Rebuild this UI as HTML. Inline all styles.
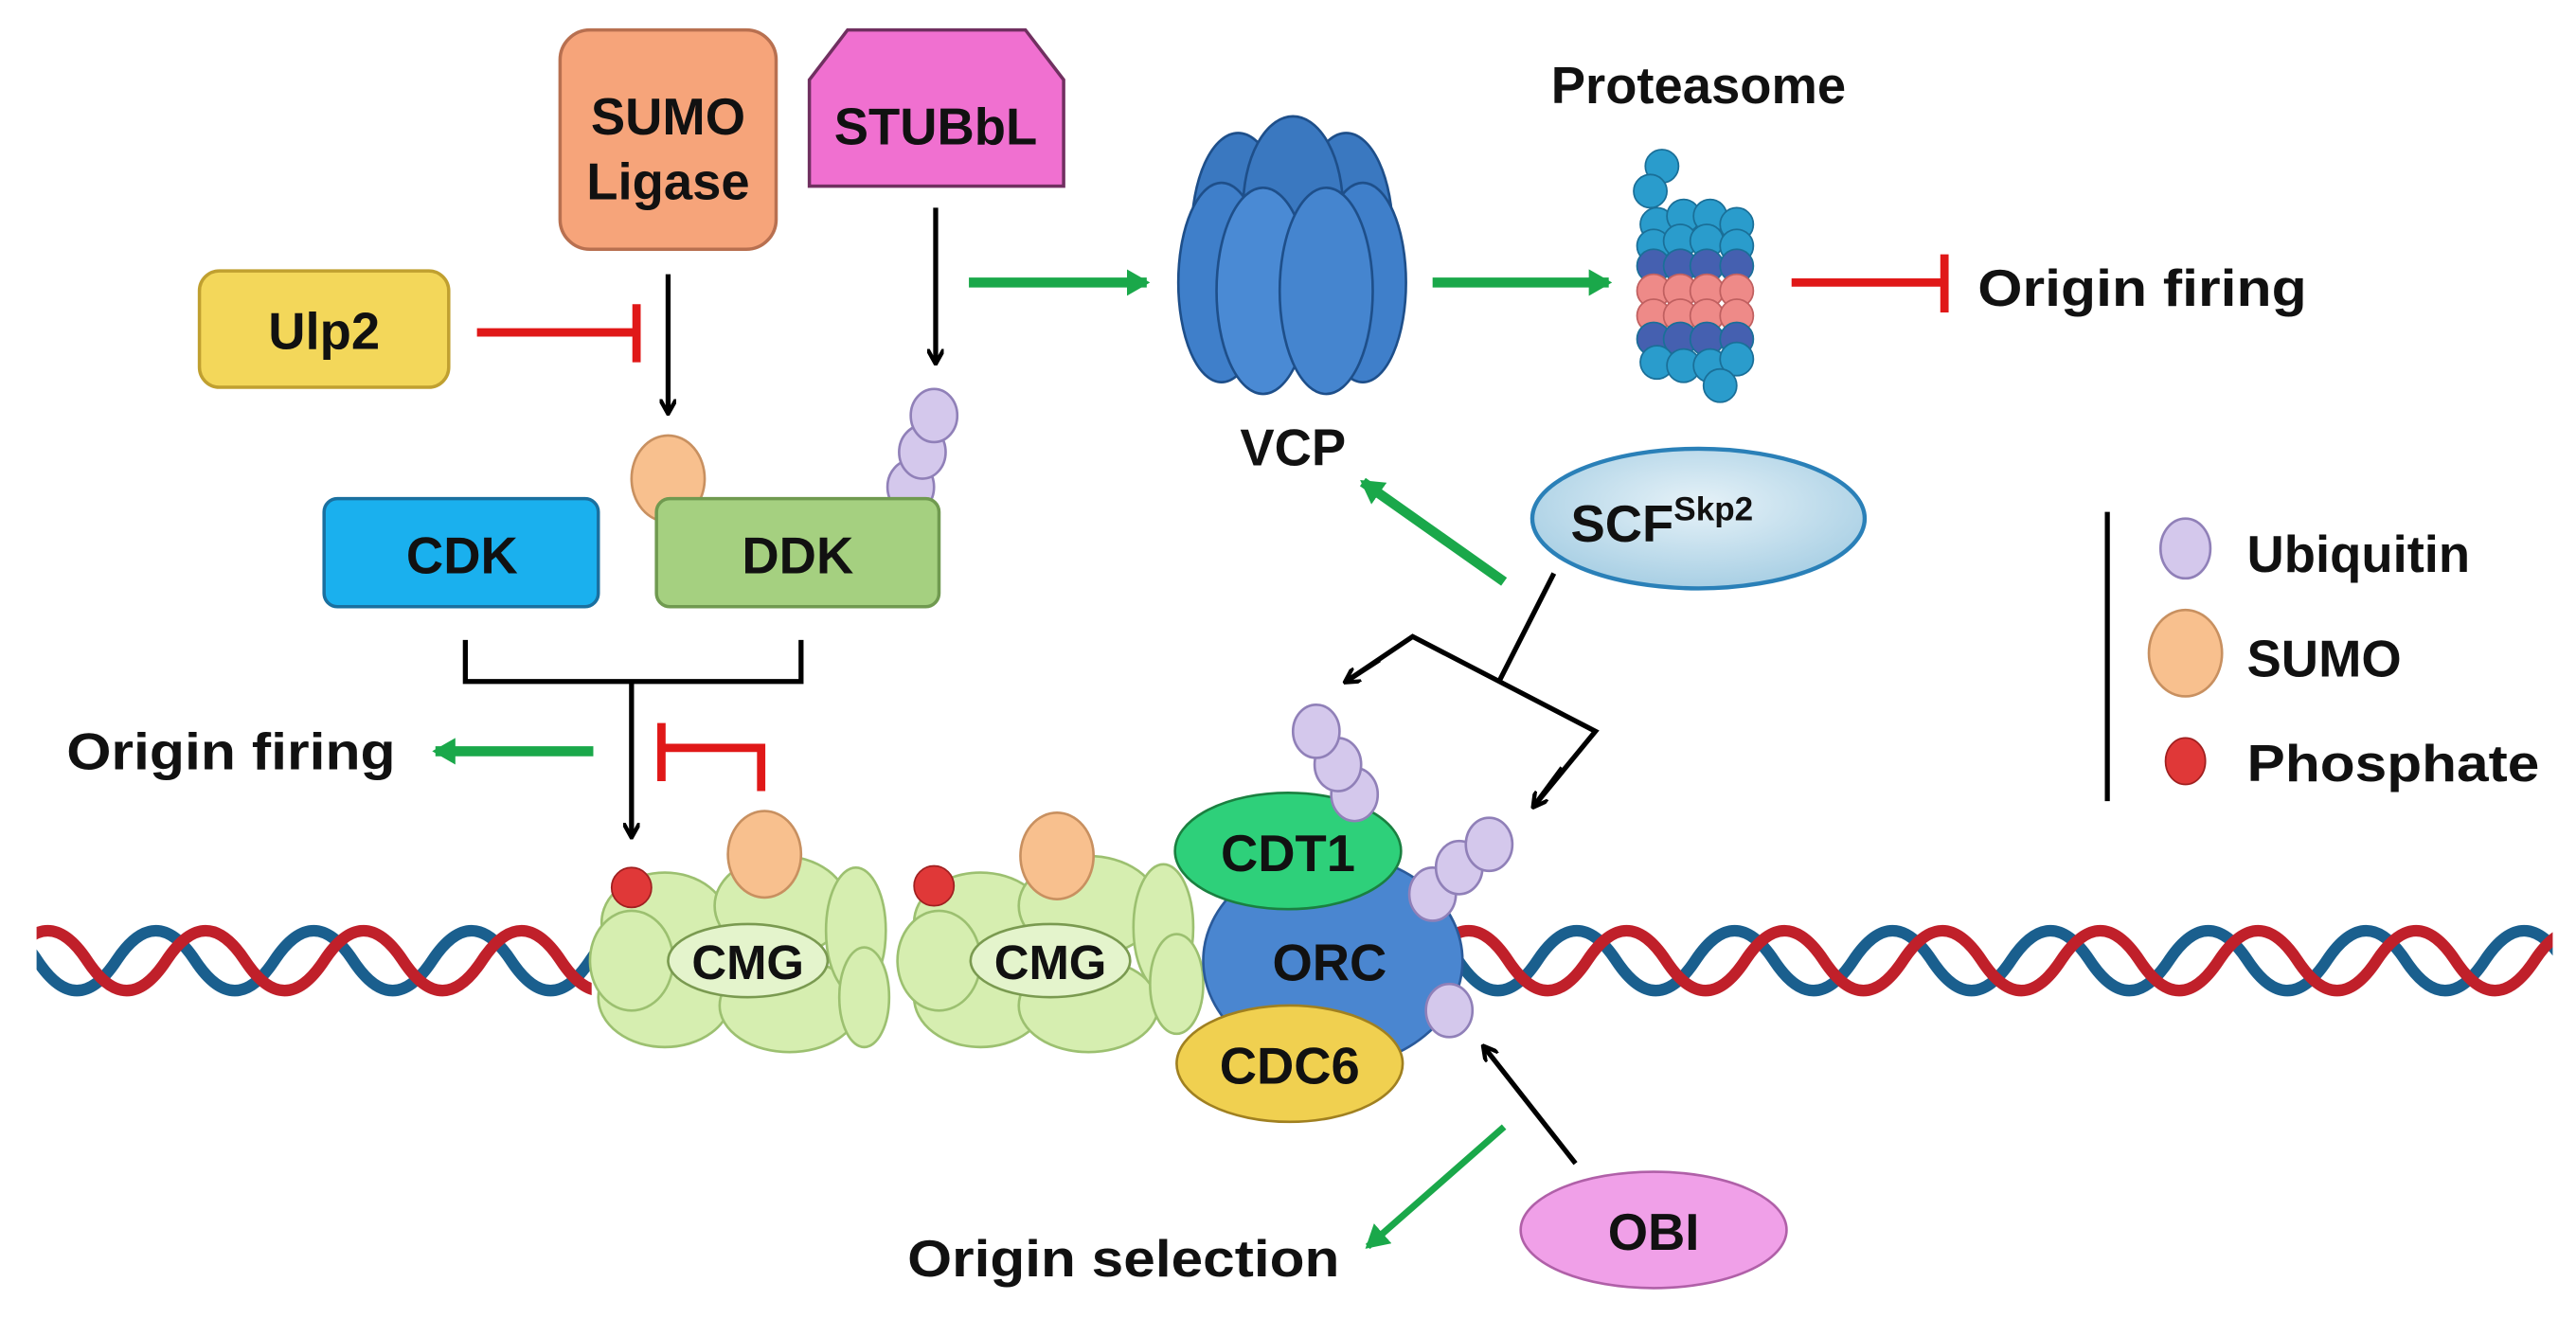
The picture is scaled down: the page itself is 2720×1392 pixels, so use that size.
<!DOCTYPE html>
<html><head><meta charset="utf-8"><style>
html,body{margin:0;padding:0;background:#fff;}
svg{display:block;}
text{font-family:"Liberation Sans",Arial,sans-serif;font-weight:bold;fill:#111;}
</style></head><body>
<svg width="2720" height="1392" viewBox="0 0 1550 793" preserveAspectRatio="none" xmlns="http://www.w3.org/2000/svg">
<defs>
<marker id="ab" markerWidth="10" markerHeight="10" refX="8" refY="5" orient="auto" markerUnits="userSpaceOnUse"><path d="M0,0 L9,5 L0,10" fill="none" stroke="#000" stroke-width="2.5"/></marker>
<marker id="ag" markerWidth="14" markerHeight="16" refX="12" refY="8" orient="auto" markerUnits="userSpaceOnUse"><path d="M0,0 L14,8 L0,16 z" fill="#1aa84a"/></marker>
<radialGradient id="scf" cx="50%" cy="40%" r="60%"><stop offset="0" stop-color="#e6f2f8"/><stop offset="1" stop-color="#a8cfe4"/></radialGradient>
</defs>

<!-- DNA -->
<g fill="none" stroke-width="7">
<path stroke="#1a5f8e" d="M-25 578 q23.75 -36 47.5 0 t47.5 0 t47.5 0 t47.5 0 t47.5 0 t47.5 0 t47.5 0 t47.5 0 t47.5 0 t47.5 0 t47.5 0 t47.5 0 t47.5 0 t47.5 0 t47.5 0 t47.5 0 t47.5 0 t47.5 0 t47.5 0 t47.5 0 t47.5 0 t47.5 0 t47.5 0 t47.5 0 t47.5 0 t47.5 0 t47.5 0 t47.5 0 t47.5 0 t47.5 0 t47.5 0 t47.5 0 t47.5 0 t47.5 0 t47.5 0 t47.5 0"/>
<path stroke="#c0202a" d="M5 578 q23.75 -36 47.5 0 t47.5 0 t47.5 0 t47.5 0 t47.5 0 t47.5 0 t47.5 0 t47.5 0 t47.5 0 t47.5 0 t47.5 0 t47.5 0 t47.5 0 t47.5 0 t47.5 0 t47.5 0 t47.5 0 t47.5 0 t47.5 0 t47.5 0 t47.5 0 t47.5 0 t47.5 0 t47.5 0 t47.5 0 t47.5 0 t47.5 0 t47.5 0 t47.5 0 t47.5 0 t47.5 0 t47.5 0 t47.5 0 t47.5 0 t47.5 0"/>
</g>
<rect x="0" y="540" width="22" height="80" fill="#fff"/>
<rect x="1536" y="540" width="20" height="80" fill="#fff"/>
<rect x="356" y="545" width="370" height="70" fill="#fff"/>

<!-- SUMO Ligase -->
<rect x="337" y="18" width="130" height="132" rx="18" fill="#f6a47a" stroke="#b87050" stroke-width="2"/>
<text x="402" y="81" font-size="31" text-anchor="middle">SUMO</text>
<text x="402" y="120" font-size="31" text-anchor="middle">Ligase</text>
<!-- STUBbL -->
<path d="M487 48 L510 18 L617 18 L640 48 L640 112 L487 112 Z" fill="#f070d0" stroke="#703060" stroke-width="2"/>
<text x="563" y="87" font-size="31" text-anchor="middle">STUBbL</text>
<!-- Ulp2 -->
<rect x="120" y="163" width="150" height="70" rx="12" fill="#f3d75a" stroke="#c0a030" stroke-width="2"/>
<text x="195" y="210" font-size="31" text-anchor="middle">Ulp2</text>
<line x1="287" y1="200" x2="383" y2="200" stroke="#e01818" stroke-width="5"/>
<line x1="383" y1="183" x2="383" y2="218" stroke="#e01818" stroke-width="5"/>
<line x1="402" y1="165" x2="402" y2="248" stroke="#000" stroke-width="3" marker-end="url(#ab)"/>
<line x1="563" y1="125" x2="563" y2="218" stroke="#000" stroke-width="3" marker-end="url(#ab)"/>
<line x1="583" y1="170" x2="690" y2="170" stroke="#1aa84a" stroke-width="6" marker-end="url(#ag)"/>

<!-- VCP -->
<g stroke="#1e4f8a" stroke-width="1.5" fill="#3a78c0">
<ellipse cx="745" cy="140" rx="28" ry="60"/>
<ellipse cx="810" cy="140" rx="28" ry="60"/>
<ellipse cx="778" cy="125" rx="30" ry="55"/>
<ellipse cx="735" cy="170" rx="26" ry="60" fill="#3f7fca"/>
<ellipse cx="820" cy="170" rx="26" ry="60" fill="#3f7fca"/>
<ellipse cx="760" cy="175" rx="28" ry="62" fill="#4a8ad4"/>
<ellipse cx="798" cy="175" rx="28" ry="62" fill="#4585cf"/>
</g>
<text x="778" y="280" font-size="31" text-anchor="middle">VCP</text>
<line x1="862" y1="170" x2="968" y2="170" stroke="#1aa84a" stroke-width="6" marker-end="url(#ag)"/>

<!-- Proteasome -->
<text x="1022" y="62" font-size="31" text-anchor="middle">Proteasome</text>
<g stroke="#1a6f98" stroke-width="1">
<circle cx="1000" cy="100" r="10" fill="#2a9ccc"/><circle cx="993" cy="115" r="10" fill="#2a9ccc"/>
<g fill="#2a9ccc"><circle cx="997" cy="135" r="10"/><circle cx="1013" cy="130" r="10"/><circle cx="1029" cy="130" r="10"/><circle cx="1045" cy="135" r="10"/>
<circle cx="995" cy="148" r="10"/><circle cx="1011" cy="145" r="10"/><circle cx="1027" cy="145" r="10"/><circle cx="1045" cy="148" r="10"/></g>
<g fill="#4560b0"><circle cx="995" cy="160" r="10"/><circle cx="1011" cy="160" r="10"/><circle cx="1027" cy="160" r="10"/><circle cx="1045" cy="160" r="10"/></g>
<g fill="#ee8a88" stroke="#c06060"><circle cx="995" cy="175" r="10"/><circle cx="1011" cy="175" r="10"/><circle cx="1027" cy="175" r="10"/><circle cx="1045" cy="175" r="10"/>
<circle cx="995" cy="190" r="10"/><circle cx="1011" cy="190" r="10"/><circle cx="1027" cy="190" r="10"/><circle cx="1045" cy="190" r="10"/></g>
<g fill="#4560b0"><circle cx="995" cy="204" r="10"/><circle cx="1011" cy="204" r="10"/><circle cx="1027" cy="204" r="10"/><circle cx="1045" cy="204" r="10"/></g>
<g fill="#2a9ccc"><circle cx="997" cy="218" r="10"/><circle cx="1013" cy="220" r="10"/><circle cx="1029" cy="220" r="10"/><circle cx="1045" cy="216" r="10"/>
<circle cx="1035" cy="232" r="10"/></g>
</g>
<line x1="1078" y1="170" x2="1170" y2="170" stroke="#e01818" stroke-width="5"/>
<line x1="1170" y1="153" x2="1170" y2="188" stroke="#e01818" stroke-width="5"/>
<text x="1190" y="184" font-size="31" textLength="198" lengthAdjust="spacingAndGlyphs">Origin firing</text>

<!-- SUMO & ubiquitins on DDK -->
<ellipse cx="402" cy="288" rx="22" ry="26" fill="#f8c08e" stroke="#c89060" stroke-width="1.5"/>
<g fill="#d4c8ec" stroke="#9080b8" stroke-width="1.5">
<ellipse cx="548" cy="293" rx="14" ry="16"/><ellipse cx="555" cy="272" rx="14" ry="16"/><ellipse cx="562" cy="250" rx="14" ry="16"/>
</g>
<rect x="195" y="300" width="165" height="65" rx="8" fill="#1ab0ee" stroke="#1a70a0" stroke-width="2"/>
<text x="278" y="345" font-size="31" text-anchor="middle">CDK</text>
<rect x="395" y="300" width="170" height="65" rx="8" fill="#a5d080" stroke="#709a50" stroke-width="2"/>
<text x="480" y="345" font-size="31" text-anchor="middle">DDK</text>

<polyline points="280,385 280,410 482,410 482,385" fill="none" stroke="#000" stroke-width="3"/>
<line x1="380" y1="410" x2="380" y2="503" stroke="#000" stroke-width="3" marker-end="url(#ab)"/>
<line x1="357" y1="452" x2="262" y2="452" stroke="#1aa84a" stroke-width="6" marker-end="url(#ag)"/>
<text x="40" y="463" font-size="31" textLength="198" lengthAdjust="spacingAndGlyphs">Origin firing</text>
<polyline points="458,476 458,450 398,450" fill="none" stroke="#e01818" stroke-width="5"/>
<line x1="398" y1="435" x2="398" y2="470" stroke="#e01818" stroke-width="5"/>

<!-- CMG complexes -->
<g fill="#d6eeb0" stroke="#9cc070" stroke-width="1.5">
<ellipse cx="400" cy="555" rx="38" ry="30"/><ellipse cx="400" cy="600" rx="40" ry="30"/><ellipse cx="470" cy="545" rx="40" ry="30"/>
<ellipse cx="475" cy="605" rx="42" ry="28"/><ellipse cx="515" cy="560" rx="18" ry="38"/><ellipse cx="520" cy="600" rx="15" ry="30"/>
<ellipse cx="380" cy="578" rx="25" ry="30"/>
<ellipse cx="590" cy="555" rx="40" ry="30"/><ellipse cx="590" cy="600" rx="40" ry="30"/><ellipse cx="655" cy="545" rx="42" ry="30"/>
<ellipse cx="655" cy="605" rx="42" ry="28"/><ellipse cx="700" cy="558" rx="18" ry="38"/><ellipse cx="708" cy="592" rx="16" ry="30"/>
<ellipse cx="565" cy="578" rx="25" ry="30"/>
<ellipse cx="450" cy="578" rx="48" ry="22" fill="#e4f4cc" stroke="#7a9a50"/>
<ellipse cx="632" cy="578" rx="48" ry="22" fill="#e4f4cc" stroke="#7a9a50"/>
</g>
<text x="450" y="589" font-size="29" text-anchor="middle">CMG</text>
<text x="632" y="589" font-size="29" text-anchor="middle">CMG</text>
<circle cx="380" cy="534" r="12" fill="#e03838" stroke="#a02020"/>
<circle cx="562" cy="533" r="12" fill="#e03838" stroke="#a02020"/>
<ellipse cx="460" cy="514" rx="22" ry="26" fill="#f8c08e" stroke="#c89060" stroke-width="1.5"/>
<ellipse cx="636" cy="515" rx="22" ry="26" fill="#f8c08e" stroke="#c89060" stroke-width="1.5"/>

<!-- ORC -->
<ellipse cx="802" cy="578" rx="78" ry="64" fill="#4a86d0" stroke="#2a5a9a" stroke-width="1.5"/>
<text x="800" y="590" font-size="31" text-anchor="middle">ORC</text>
<ellipse cx="775" cy="512" rx="68" ry="35" fill="#2ed07a" stroke="#1a8040" stroke-width="1.5"/>
<text x="775" y="524" font-size="31" text-anchor="middle">CDT1</text>
<ellipse cx="776" cy="640" rx="68" ry="35" fill="#f0d050" stroke="#a08020" stroke-width="1.5"/>
<text x="776" y="652" font-size="31" text-anchor="middle">CDC6</text>
<g fill="#d4c8ec" stroke="#9080b8" stroke-width="1.5">
<ellipse cx="815" cy="478" rx="14" ry="16"/><ellipse cx="805" cy="460" rx="14" ry="16"/><ellipse cx="792" cy="440" rx="14" ry="16"/>
<ellipse cx="862" cy="538" rx="14" ry="16"/><ellipse cx="878" cy="522" rx="14" ry="16"/><ellipse cx="896" cy="508" rx="14" ry="16"/>
<ellipse cx="872" cy="608" rx="14" ry="16"/>
</g>

<!-- SCF -->
<ellipse cx="1022" cy="312" rx="100" ry="42" fill="url(#scf)" stroke="#2a80b8" stroke-width="2.5"/>
<text x="1000" y="326" font-size="31" text-anchor="middle">SCF<tspan font-size="20" dy="-13">Skp2</tspan></text>
<line x1="905" y1="350" x2="820" y2="290" stroke="#1aa84a" stroke-width="6" marker-end="url(#ag)"/>
<line x1="935" y1="345" x2="902" y2="410" stroke="#000" stroke-width="3"/>
<polyline points="810,410 850,383 960,440 923,485" fill="none" stroke="#000" stroke-width="3"/>
<line x1="830" y1="397" x2="810" y2="410" stroke="#000" stroke-width="3" marker-end="url(#ab)"/>
<line x1="940" y1="462" x2="923" y2="485" stroke="#000" stroke-width="3" marker-end="url(#ab)"/>

<!-- OBI -->
<ellipse cx="995" cy="740" rx="80" ry="35" fill="#f0a0e8" stroke="#b060a8" stroke-width="1.5"/>
<text x="995" y="752" font-size="31" text-anchor="middle">OBI</text>
<line x1="948" y1="700" x2="893" y2="630" stroke="#000" stroke-width="3" marker-end="url(#ab)"/>
<line x1="905" y1="678" x2="823" y2="750" stroke="#1aa84a" stroke-width="4" marker-end="url(#ag)"/>
<text x="676" y="768" font-size="31" text-anchor="middle" textLength="260" lengthAdjust="spacingAndGlyphs">Origin selection</text>

<!-- Legend -->
<line x1="1268" y1="308" x2="1268" y2="482" stroke="#000" stroke-width="3"/>
<ellipse cx="1315" cy="330" rx="15" ry="18" fill="#d4c8ec" stroke="#9080b8" stroke-width="1.5"/>
<text x="1352" y="344" font-size="31">Ubiquitin</text>
<ellipse cx="1315" cy="393" rx="22" ry="26" fill="#f8c08e" stroke="#c89060" stroke-width="1.5"/>
<text x="1352" y="407" font-size="31">SUMO</text>
<ellipse cx="1315" cy="458" rx="12" ry="14" fill="#e03838" stroke="#a02020"/>
<text x="1352" y="470" font-size="31" textLength="176" lengthAdjust="spacingAndGlyphs">Phosphate</text>
</svg>
</body></html>
